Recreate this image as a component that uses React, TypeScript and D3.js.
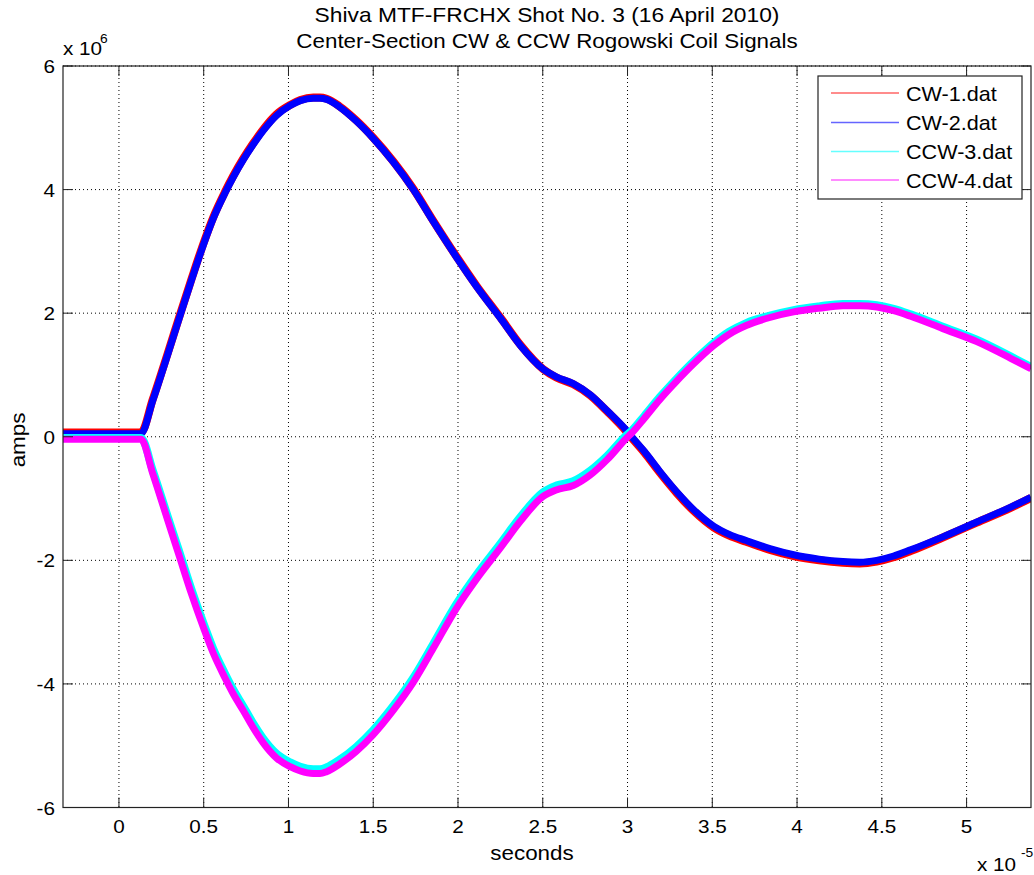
import React from "react";
import * as d3 from "d3";

// time in units of 1e-5 s, current in units of 1e6 A
const timeAxis = [-0.33, 0.13, 0.2, 0.29, 0.35, 0.43, 0.5, 0.556, 0.625, 0.674, 0.733, 0.79, 0.85, 0.93, 1.01, 1.07, 1.146, 1.186, 1.225, 1.3, 1.4, 1.5, 1.62, 1.737, 1.855, 1.99, 2.11, 2.25, 2.37, 2.5, 2.58, 2.68, 2.78, 2.88, 2.995, 3.025, 3.1, 3.19, 3.29, 3.39, 3.51, 3.6, 3.7, 3.84, 3.98, 4.13, 4.27, 4.37, 4.47, 4.57, 4.67, 4.86, 5.06, 5.26, 5.38];
const cw1Amps = [0.07, 0.07, 0.61, 1.37, 1.89, 2.57, 3.14, 3.55, 3.96, 4.22, 4.5, 4.74, 4.97, 5.22, 5.37, 5.45, 5.49, 5.49, 5.47, 5.35, 5.12, 4.84, 4.45, 4.01, 3.49, 2.92, 2.44, 1.93, 1.48, 1.1, 0.96, 0.85, 0.67, 0.41, 0.08, -0.02, -0.26, -0.58, -0.91, -1.2, -1.47, -1.6, -1.7, -1.83, -1.93, -2.0, -2.04, -2.05, -2.02, -1.95, -1.85, -1.63, -1.39, -1.15, -0.99];
const cw2Amps = [0.05, 0.05, 0.59, 1.35, 1.87, 2.55, 3.12, 3.53, 3.94, 4.2, 4.48, 4.72, 4.95, 5.2, 5.36, 5.44, 5.48, 5.48, 5.46, 5.34, 5.11, 4.83, 4.44, 4.0, 3.48, 2.91, 2.43, 1.92, 1.47, 1.1, 0.97, 0.86, 0.68, 0.42, 0.1, 0.0, -0.24, -0.56, -0.89, -1.18, -1.45, -1.58, -1.68, -1.81, -1.91, -1.98, -2.02, -2.03, -2.0, -1.93, -1.83, -1.62, -1.38, -1.14, -0.98];
const ccw3Amps = [-0.02, -0.02, -0.55, -1.31, -1.81, -2.49, -3.03, -3.43, -3.83, -4.09, -4.36, -4.63, -4.88, -5.13, -5.27, -5.34, -5.38, -5.38, -5.35, -5.23, -5.02, -4.75, -4.35, -3.9, -3.35, -2.71, -2.23, -1.73, -1.29, -0.9, -0.79, -0.72, -0.55, -0.31, 0.03, 0.1, 0.34, 0.64, 0.94, 1.22, 1.52, 1.7, 1.84, 1.96, 2.05, 2.11, 2.15, 2.15, 2.13, 2.07, 1.98, 1.78, 1.57, 1.3, 1.13];
const ccw4Amps = [-0.04, -0.04, -0.6, -1.37, -1.88, -2.56, -3.1, -3.5, -3.9, -4.16, -4.43, -4.7, -4.95, -5.2, -5.34, -5.41, -5.45, -5.45, -5.42, -5.3, -5.09, -4.82, -4.42, -3.97, -3.42, -2.78, -2.3, -1.8, -1.36, -0.97, -0.86, -0.79, -0.62, -0.37, -0.02, 0.06, 0.3, 0.6, 0.9, 1.18, 1.48, 1.66, 1.8, 1.93, 2.02, 2.08, 2.12, 2.12, 2.1, 2.04, 1.95, 1.75, 1.54, 1.27, 1.1];

const seriesNames = ["CW-1.dat", "CW-2.dat", "CCW-3.dat", "CCW-4.dat"];
const seriesColors = ["#ff0000", "#0000ff", "#00ffff", "#ff00ff"];
const xTicks = [0, 0.5, 1, 1.5, 2, 2.5, 3, 3.5, 4, 4.5, 5];
const yTicks = [-6, -4, -2, 0, 2, 4, 6];
const titleLines = ["Shiva MTF-FRCHX Shot No. 3 (16 April 2010)", "Center-Section CW & CCW Rogowski Coil Signals"];

const FONT = "'Liberation Sans', Arial, Helvetica, sans-serif";

function T({ x, y, size, sx = 1.12, anchor = "start", children, rotate = 0 }: any) {
  return (
    <text
      transform={`translate(${x},${y}) rotate(${rotate}) scale(${sx},1)`}
      fontFamily={FONT}
      fontSize={size}
      textAnchor={anchor}
      fill="#000"
    >
      {children}
    </text>
  );
}

export default function App() {
  const L = 63, R = 1031, TOP = 66, B = 807.5;
  const x = d3.scaleLinear().domain([-0.33, 5.38]).range([L, R]);
  const y = d3.scaleLinear().domain([-6, 6]).range([B, TOP]);

  const mk = (vs: number[]) =>
    d3.line<number>().x((_, i) => x(timeAxis[i])).y((v) => y(v)).curve(d3.curveMonotoneX)(vs) || "";

  const series = [
    { d: mk(cw1Amps), w: 8 },
    { d: mk(cw2Amps), w: 7 },
    { d: mk(ccw3Amps), w: 8 },
    { d: mk(ccw4Amps), w: 7 },
  ];

  const tickLen = 10;
  const legX = 818, legY = 76, legW = 204, legH = 123;
  const rowY = [93, 122.5, 151.5, 180];

  return (
    <svg width={1034} height={875} style={{ position: "absolute", left: 0, top: 0, background: "#fff" }}>
      <defs>
        <clipPath id="plot">
          <rect x={L} y={TOP} width={R - L} height={B - TOP} />
        </clipPath>
      </defs>
      <rect x={0} y={0} width={1034} height={875} fill="#fff" />
      {xTicks.map((t) => (
        <line key={"gx" + t} x1={x(t)} x2={x(t)} y1={TOP} y2={B} stroke="#000" strokeWidth={1} strokeDasharray="1,3" />
      ))}
      {yTicks.map((t) => (
        <line key={"gy" + t} x1={L} x2={R} y1={y(t)} y2={y(t)} stroke="#000" strokeWidth={1} strokeDasharray="1,3" />
      ))}
      <g clipPath="url(#plot)">
        {series.map((s, i) => (
          <path key={i} d={s.d} fill="none" stroke={seriesColors[i]} strokeWidth={s.w} strokeLinejoin="miter" />
        ))}
      </g>
      {xTicks.map((t) => (
        <g key={"tx" + t}>
          <line x1={x(t)} x2={x(t)} y1={B} y2={B - tickLen} stroke="#222" />
          <line x1={x(t)} x2={x(t)} y1={TOP} y2={TOP + tickLen} stroke="#222" />
          <T x={x(t)} y={B + 25.5} size={18} sx={1.15} anchor="middle">{String(t)}</T>
        </g>
      ))}
      {yTicks.map((t) => (
        <g key={"ty" + t}>
          <line x1={L} x2={L + tickLen} y1={y(t)} y2={y(t)} stroke="#222" />
          <line x1={R} x2={R - tickLen} y1={y(t)} y2={y(t)} stroke="#222" />
          <T x={55} y={y(t) + 7} size={18} sx={1.15} anchor="end">{String(t)}</T>
        </g>
      ))}
      <rect x={L} y={TOP} width={R - L} height={B - TOP} fill="none" stroke="#222" strokeWidth={1.2} />
      <T x={63} y={55} size={18} sx={1.15}>x 10</T>
      <T x={100} y={43} size={12} sx={1.15}>6</T>
      <T x={977} y={871} size={18} sx={1.15}>x 10</T>
      <T x={1021} y={857} size={12} sx={1.15}>-5</T>
      <T x={547} y={22} size={20} sx={1.14} anchor="middle">{titleLines[0]}</T>
      <T x={547} y={48} size={20} anchor="middle">{titleLines[1]}</T>
      <T x={532} y={860} size={20} anchor="middle">seconds</T>
      <T x={25} y={440} size={20} anchor="middle" rotate={-90}>amps</T>
      <rect x={legX} y={legY} width={legW} height={legH} fill="#fff" stroke="#222" strokeWidth={1.2} />
      {seriesNames.map((n, i) => (
        <g key={n}>
          <line x1={831} x2={899} y1={rowY[i]} y2={rowY[i]} stroke={seriesColors[i]} strokeWidth={1.3} opacity={0.6} />
          <T x={906} y={rowY[i] + 7.5} size={20} sx={1.08}>{n}</T>
        </g>
      ))}
    </svg>
  );
}
